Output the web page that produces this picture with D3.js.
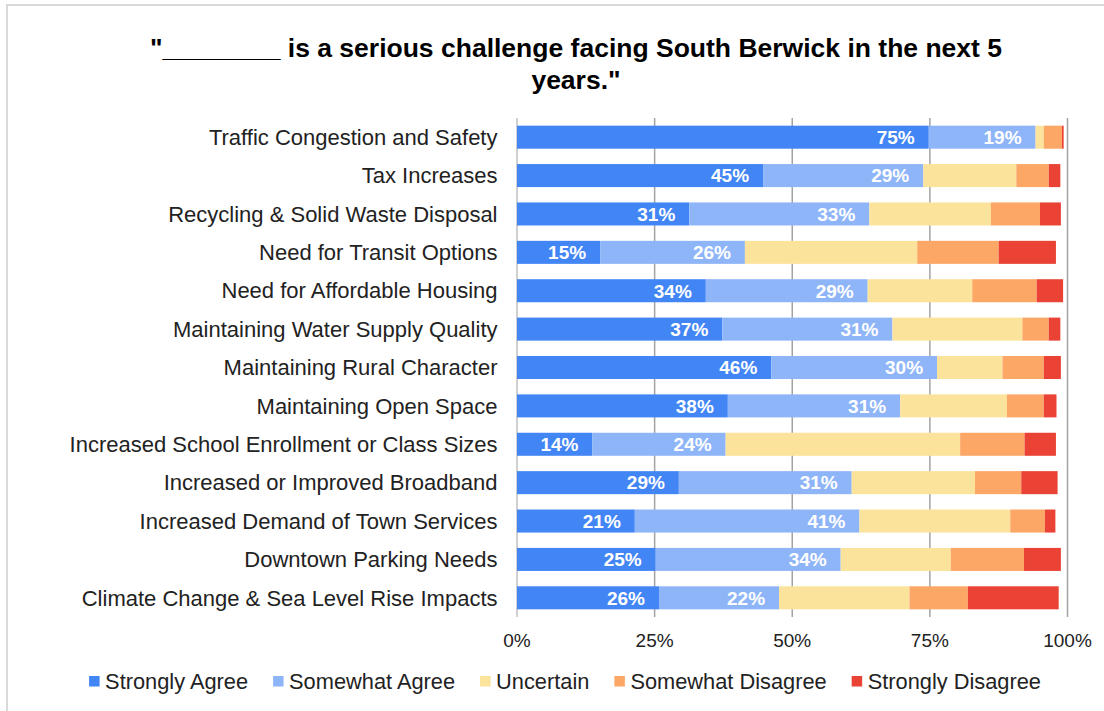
<!DOCTYPE html>
<html>
<head>
<meta charset="utf-8">
<script src="https://cdn.jsdelivr.net/npm/d3@7"></script>
<style>
  body { margin: 0; background: #fff; }
  text { font-family: "Liberation Sans", Arial, sans-serif; }
</style>
</head>
<body>
<script>
// Categories (top to bottom)
let categories = [
  "Traffic Congestion and Safety",
  "Tax Increases",
  "Recycling & Solid Waste Disposal",
  "Need for Transit Options",
  "Need for Affordable Housing",
  "Maintaining Water Supply Quality",
  "Maintaining Rural Character",
  "Maintaining Open Space",
  "Increased School Enrollment or Class Sizes",
  "Increased or Improved Broadband",
  "Increased Demand of Town Services",
  "Downtown Parking Needs",
  "Climate Change & Sea Level Rise Impacts"
];

let seriesNames = ["Strongly Agree", "Somewhat Agree", "Uncertain", "Somewhat Disagree", "Strongly Disagree"];
let seriesColors = ["#4285f4", "#8fb5f9", "#fce39c", "#fda766", "#ea4335"];

// Percent values
let stronglyAgree    = [74.8, 44.7, 31.3, 15.1, 34.3, 37.3, 46.2, 38.3, 13.7, 29.4, 21.4, 25.2, 25.8];
let somewhatAgree    = [19.4, 29.1, 32.7, 26.3, 29.4, 30.9, 30.1, 31.3, 24.2, 31.4, 40.8, 33.6, 21.8];
let uncertain        = [1.5, 16.9, 22.1, 31.3, 19.0, 23.6, 11.9, 19.4, 42.6, 22.4, 27.4, 20.0, 23.7];
let somewhatDisagree = [3.3, 5.9, 8.9, 14.8, 11.7, 4.8, 7.5, 6.7, 11.7, 8.4, 6.3, 13.3, 10.6];
let stronglyDisagree = [0.3, 2.1, 3.8, 10.4, 4.8, 2.1, 3.1, 2.3, 5.7, 6.6, 1.9, 6.7, 16.5];

let tickValues = [0, 25, 50, 75, 100];
let tickLabels = ["0%", "25%", "50%", "75%", "100%"];

let titleLines = ["\"________ is a serious challenge facing South Berwick in the next 5", "years.\""];

let W = 1104, H = 711;
let svg = d3.select("body").append("svg")
  .attr("width", W)
  .attr("height", H);

// outer frame (only top and left edges are visible)
svg.append("rect")
  .attr("x", 7).attr("y", 5)
  .attr("width", 1300).attr("height", 900)
  .attr("fill", "none")
  .attr("stroke", "#d9d9d9")
  .attr("stroke-width", 2);

// title
svg.append("text")
  .attr("x", 576).attr("y", 57)
  .attr("text-anchor", "middle")
  .attr("font-size", 26.5)
  .attr("font-weight", "bold")
  .attr("fill", "#000")
  .selectAll("tspan")
  .data(titleLines).enter().append("tspan")
    .attr("x", 576)
    .attr("dy", (d, i) => i === 0 ? 0 : 32)
    .text(d => d);

let x = d3.scaleLinear().domain([0, 100]).range([517, 1067.5]);
let y = d3.scaleBand().domain(categories).range([118, 617])
  .paddingInner(0.4).paddingOuter(0.2);

// gridlines
svg.append("g").selectAll("line")
  .data(tickValues).enter().append("line")
    .attr("x1", d => x(d)).attr("x2", d => x(d))
    .attr("y1", 118).attr("y2", 617)
    .attr("stroke", d => d === 0 ? "#d0d0d0" : "#a3a3a3")
    .attr("stroke-width", d => d === 0 ? 2 : 1.5);

// stack data
let table = categories.map((c, i) => ({
  category: c,
  "Strongly Agree": stronglyAgree[i],
  "Somewhat Agree": somewhatAgree[i],
  "Uncertain": uncertain[i],
  "Somewhat Disagree": somewhatDisagree[i],
  "Strongly Disagree": stronglyDisagree[i]
}));
let stacked = d3.stack().keys(seriesNames)(table);

let color = d3.scaleOrdinal().domain(seriesNames).range(seriesColors);

let layers = svg.append("g").selectAll("g")
  .data(stacked).enter().append("g")
    .attr("fill", d => color(d.key));

layers.selectAll("rect")
  .data(d => d).enter().append("rect")
    .attr("x", d => x(d[0]))
    .attr("y", d => y(d.data.category))
    .attr("width", d => x(d[1]) - x(d[0]))
    .attr("height", y.bandwidth());

// value labels on the two agree series
let fmt = d => Math.round(d) + "%";
svg.append("g").selectAll("g")
  .data(stacked.slice(0, 2)).enter().append("g")
  .selectAll("text")
  .data(d => d).enter().append("text")
    .attr("x", d => x(d[1]) - 14)
    .attr("y", d => y(d.data.category) + y.bandwidth() / 2)
    .attr("dy", "0.36em")
    .attr("text-anchor", "end")
    .attr("font-size", 19)
    .attr("font-weight", "bold")
    .attr("fill", "#fff")
    .text(d => fmt(d[1] - d[0]));

// category labels
svg.append("g").selectAll("text")
  .data(categories).enter().append("text")
    .attr("x", 497.5)
    .attr("y", d => y(d) + y.bandwidth() / 2)
    .attr("dy", "0.35em")
    .attr("text-anchor", "end")
    .attr("font-size", 22)
    .attr("fill", "#222")
    .text(d => d);

// x tick labels
svg.append("g").selectAll("text")
  .data(tickValues).enter().append("text")
    .attr("x", d => x(d))
    .attr("y", 647)
    .attr("text-anchor", "middle")
    .attr("font-size", 19)
    .attr("fill", "#222")
    .text((d, i) => tickLabels[i]);

// legend
let legend = svg.append("g");
let items = legend.selectAll("g")
  .data(seriesNames).enter().append("g");
items.append("rect")
  .attr("width", 10.5).attr("height", 10.5)
  .attr("y", 676)
  .attr("fill", d => color(d));
items.append("text")
  .attr("x", 16)
  .attr("y", 689)
  .attr("font-size", 21.8)
  .attr("fill", "#222")
  .text(d => d);

let pos = 0;
let offsets = [];
items.each(function() {
  offsets.push(pos);
  pos += 16 + this.querySelector("text").getComputedTextLength() + 25;
});
let total = pos - 25;
let start = 565 - total / 2;
items.attr("transform", (d, i) => "translate(" + (start + offsets[i]) + ",0)");
</script>
</body>
</html>
